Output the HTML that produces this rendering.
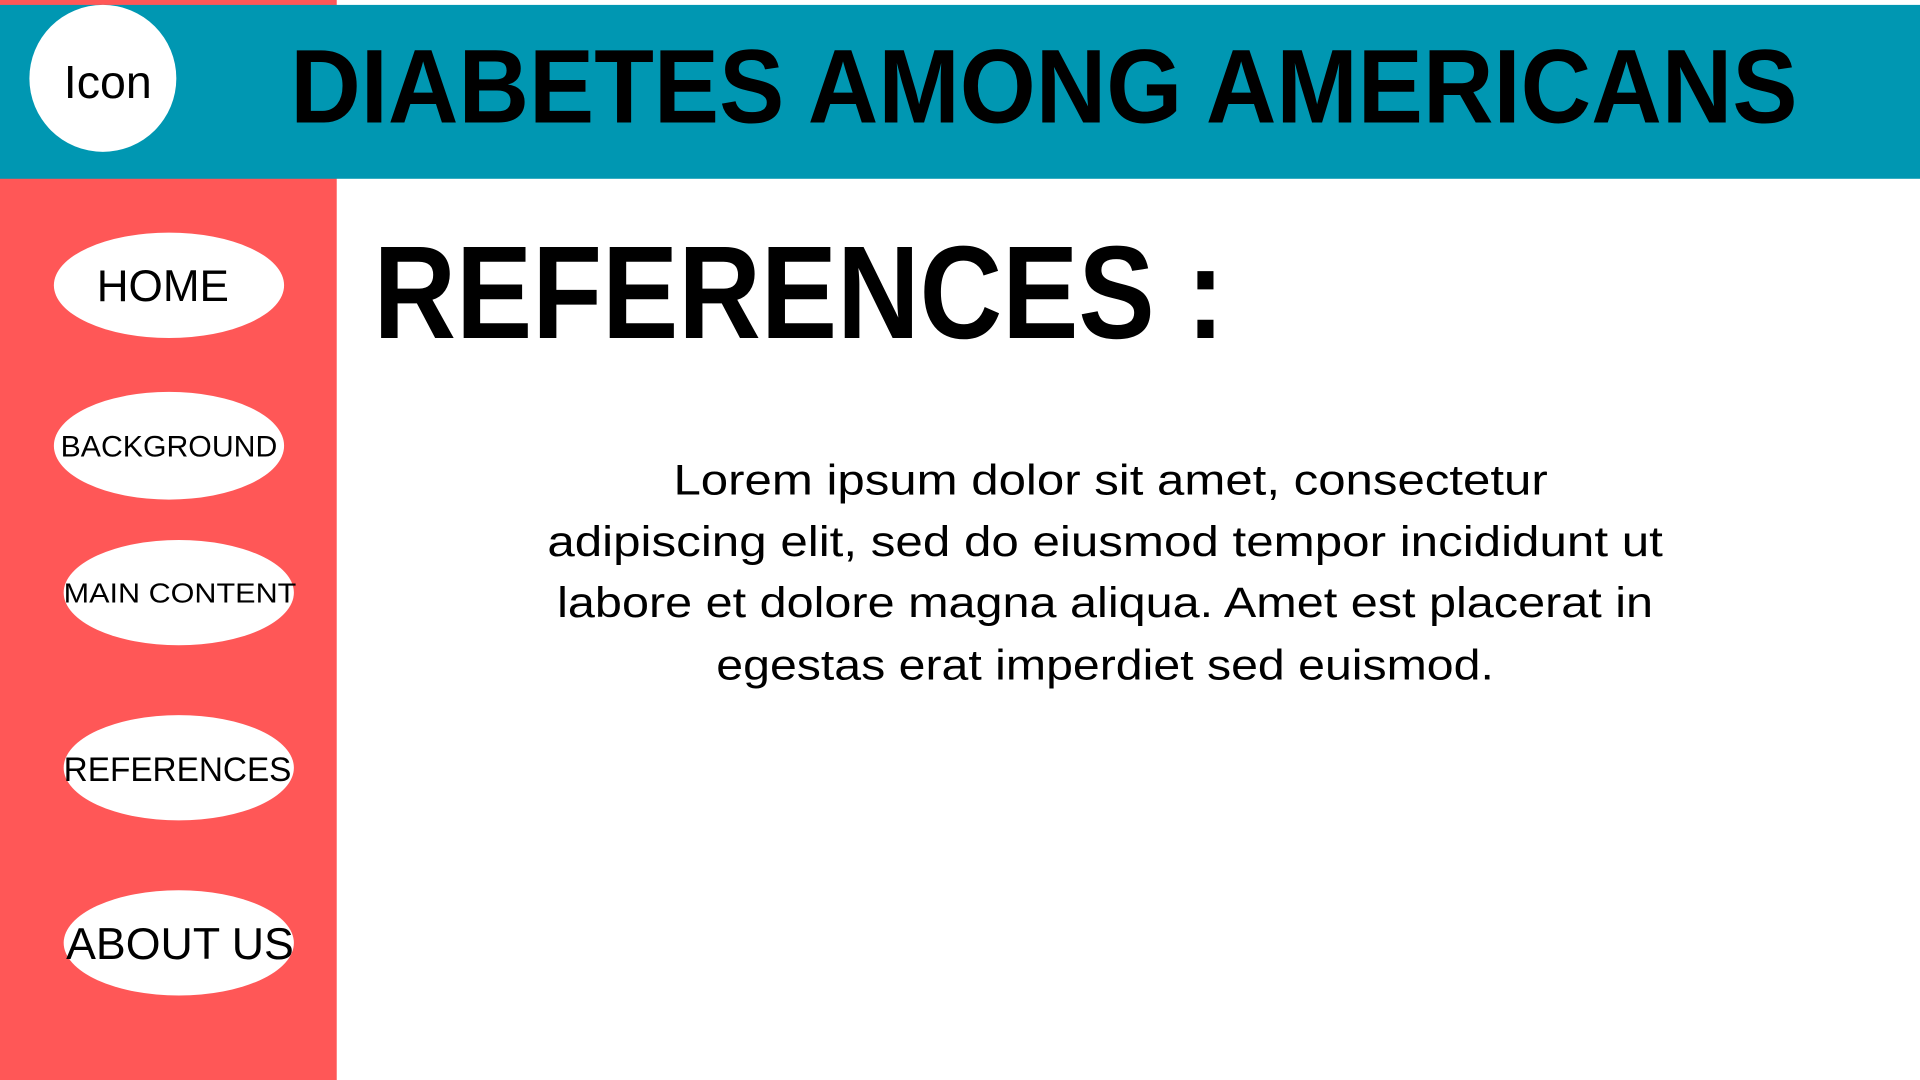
<!DOCTYPE html>
<html><head><meta charset="utf-8"><style>html,body{margin:0;padding:0;width:1920px;height:1080px;overflow:hidden;background:#fff}svg{display:block}text{font-family:"Liberation Sans",sans-serif}</style></head><body>
<svg width="1920" height="1080" viewBox="0 0 1568 882" preserveAspectRatio="none">
<rect x="0" y="0" width="1568" height="882" fill="#fff"/>
<rect x="0" y="0" width="275" height="882" fill="#ff5757"/>
<rect x="0" y="4" width="1568" height="142" fill="#0097b2"/>
<circle cx="84" cy="64" r="60" fill="#fff"/>
<text x="88" y="80" font-size="38" text-anchor="middle" fill="#000">Icon</text>
<text x="237" y="100" font-size="86" font-weight="bold" textLength="1231" lengthAdjust="spacingAndGlyphs" fill="#000">DIABETES AMONG AMERICANS</text>
<g><ellipse cx="138" cy="233" rx="94" ry="43" fill="#fff"/><text x="133" y="246" font-size="36" text-anchor="middle" fill="#000">HOME</text></g>
<g><ellipse cx="138" cy="364" rx="94" ry="44" fill="#fff"/><text x="138" y="373" font-size="24" text-anchor="middle" textLength="177" lengthAdjust="spacingAndGlyphs" fill="#000">BACKGROUND</text></g>
<g><ellipse cx="146" cy="484" rx="94" ry="43" fill="#fff"/><text x="147" y="492" font-size="23" text-anchor="middle" textLength="190" lengthAdjust="spacingAndGlyphs" fill="#000">MAIN CONTENT</text></g>
<g><ellipse cx="146" cy="627" rx="94" ry="43" fill="#fff"/><text x="145" y="638" font-size="28" text-anchor="middle" textLength="186" lengthAdjust="spacingAndGlyphs" fill="#000">REFERENCES</text></g>
<g><ellipse cx="146" cy="770" rx="94" ry="43" fill="#fff"/><text x="147" y="783" font-size="36" text-anchor="middle" textLength="186" lengthAdjust="spacingAndGlyphs" fill="#000">ABOUT US</text></g>
<text x="305" y="276" font-size="108" font-weight="bold" textLength="695" lengthAdjust="spacingAndGlyphs" fill="#000">REFERENCES :</text>
<g font-size="35" fill="#000">
<text x="550" y="404" textLength="714" lengthAdjust="spacingAndGlyphs">Lorem ipsum dolor sit amet, consectetur</text>
<text x="447" y="454" textLength="911" lengthAdjust="spacingAndGlyphs">adipiscing elit, sed do eiusmod tempor incididunt ut</text>
<text x="455" y="504" textLength="895" lengthAdjust="spacingAndGlyphs">labore et dolore magna aliqua. Amet est placerat in</text>
<text x="585" y="555" textLength="635" lengthAdjust="spacingAndGlyphs">egestas erat imperdiet sed euismod.</text>
</g>
</svg>
</body></html>
